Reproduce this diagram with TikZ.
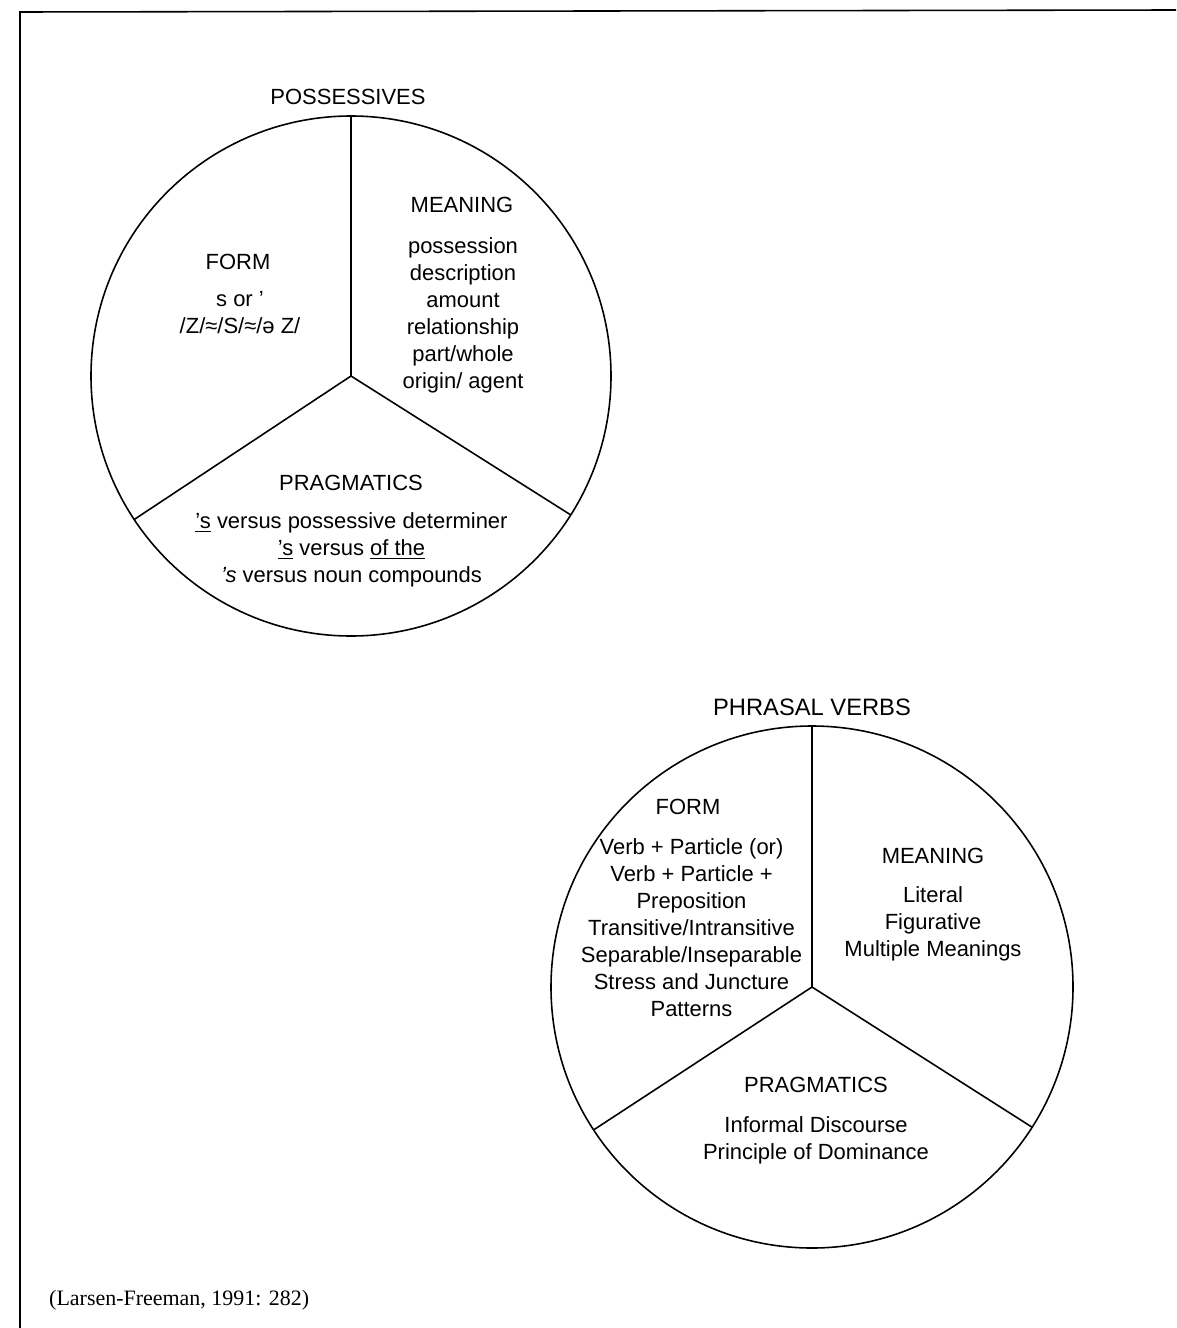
\documentclass[tikz,border=0pt]{standalone}
\usepackage{fontspec}
\setmainfont{Liberation Sans}
\newfontfamily\capfont{Liberation Serif}
\begin{document}
\begin{tikzpicture}[
    seg/.style={line width=0.9pt},
    head/.style={font=\fontsize{12.5}{15}\selectfont},
    body/.style={align=center,font=\fontsize{12.5}{15.4}\selectfont}]
    \useasboundingbox (0,0) rectangle (23.52,-26.56);
    % frame
    \draw[seg] (0.4,-26.56) -- (0.4,-0.24) -- (23.52,-0.2);
    % possessives
    \coordinate (c1) at (7.02,-7.52);
    \draw[seg] (c1) circle (5.2);
    \draw[seg] (c1) -- ++(90:5.2);
    \draw[seg] (c1) -- ++(213.5:5.2);
    \draw[seg] (c1) -- ++(-32.3:5.2);
    \node[head] (t1) at (6.96,-1.94) {POSSESSIVES};
    \node[head] (m1) at (9.24,-4.1) {MEANING};
    \node[body] (m1b) at (9.26,-6.31) {possession\\description\\amount\\relationship\\part/whole\\origin/ agent};
    \node[head] (f1) at (4.76,-5.24) {FORM};
    \node[body] (f1b) at (4.8,-6.26) {s or ’\\/Z/≈/S/≈/ə Z/};
    \node[head] (p1) at (7.02,-9.66) {PRAGMATICS};
    \node[body] (p1b) at (7.03,-11.0) {\underline{’s} versus possessive determiner\\
        \underline{’s} versus \underline{of the}\\\textit{’s} versus noun compounds};
    % phrasal verbs
    \coordinate (c2) at (16.24,-19.74);
    \draw[seg] (c2) circle (5.22);
    \draw[seg] (c2) -- ++(90:5.22);
    \draw[seg] (c2) -- ++(213.2:5.22);
    \draw[seg] (c2) -- ++(-32.5:5.22);
    \node[head,font=\fontsize{13.5}{15}\selectfont] (t2) at (16.24,-14.14) {PHRASAL VERBS};
    \node[head] (f2) at (13.76,-16.14) {FORM};
    \node[body] (f2b) at (13.83,-18.55) {Verb + Particle (or)\\Verb + Particle +\\Preposition\\
        Transitive/Intransitive\\Separable/Inseparable\\Stress and Juncture\\Patterns};
    \node[head] (m2) at (18.66,-17.12) {MEANING};
    \node[body] (m2b) at (18.66,-18.47) {Literal\\Figurative\\Multiple Meanings};
    \node[head] (p2) at (16.32,-21.7) {PRAGMATICS};
    \node[body] (p2b) at (16.32,-22.81) {Informal Discourse\\Principle of Dominance};
    % source
    \node[anchor=west,font=\capfont\fontsize{12.5}{15}\selectfont] (src) at (0.86,-26.0)
        {(Larsen-Freeman, 1991: 282)};
\end{tikzpicture}
\end{document}
